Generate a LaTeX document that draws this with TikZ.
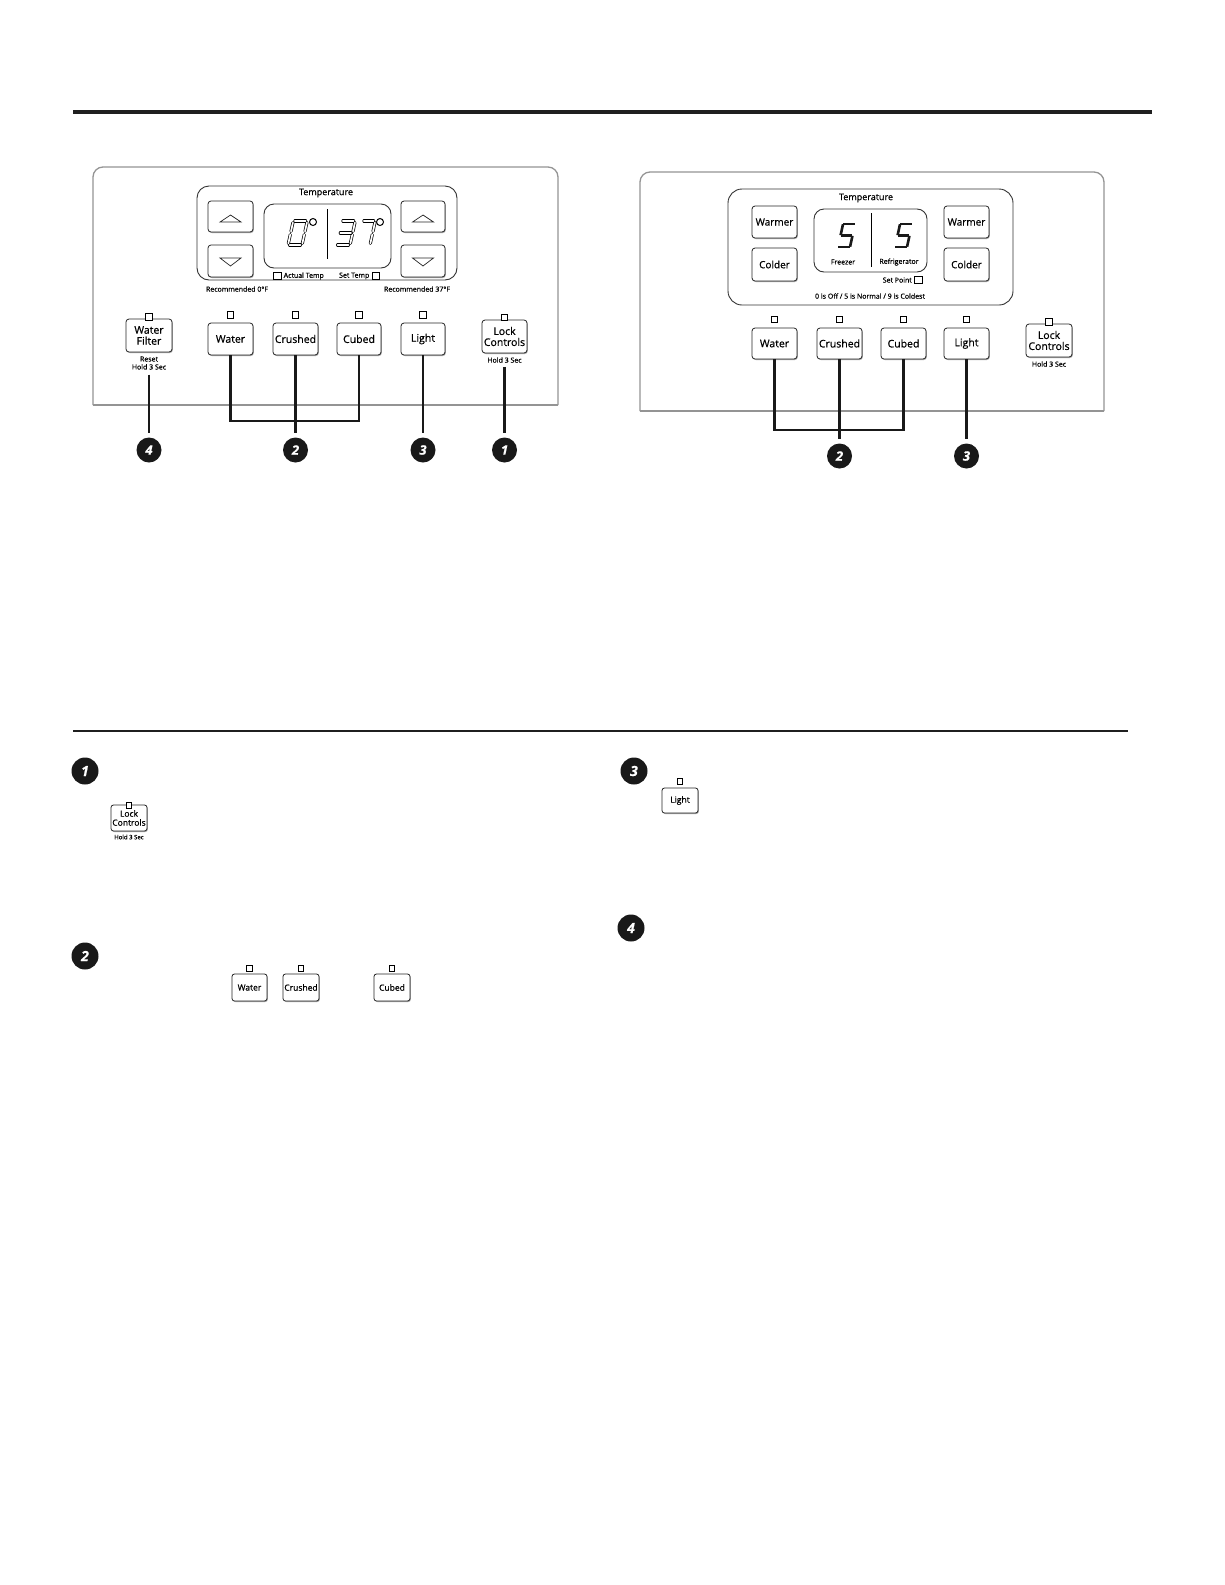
\documentclass[tikz,border=0pt]{standalone}
\usepackage{fontspec}
\setmainfont{Open Sans}[FakeBold=0.6]
\usetikzlibrary{shadows}
\newcommand{\sgA}[1]{\draw[#1] (\sgap,-\sgh) -- (\sgw-\sgap,-\sgh);}
\newcommand{\sgB}[1]{\draw[#1] (\sgw,-\sgh+\sgap) -- (\sgw,-\sgh/2-\sgap);}
\newcommand{\sgC}[1]{\draw[#1] (\sgw,-\sgh/2+\sgap) -- (\sgw,-\sgap);}
\newcommand{\sgD}[1]{\draw[#1] (\sgap,0) -- (\sgw-\sgap,0);}
\newcommand{\sgE}[1]{\draw[#1] (0,-\sgap) -- (0,-\sgh/2+\sgap);}
\newcommand{\sgF}[1]{\draw[#1] (0,-\sgh/2-\sgap) -- (0,-\sgh+\sgap);}
\newcommand{\sgG}[1]{\draw[#1] (\sgap,-\sgh/2) -- (\sgw-\sgap,-\sgh/2);}
\begin{document}
\begin{tikzpicture}[x=1pt,y=-1pt,
  panel/.style={draw=black!42, line width=1.3},
  tbox/.style={draw=black!80, line width=0.9, rounded corners=12, inner sep=0},
  disp/.style={draw=black!80, line width=0.9, rounded corners=10, inner sep=0},
  btn/.style={draw=black!85, line width=0.8, rounded corners=3, fill=white, inner sep=0, align=center,
     font=\fontsize{10.5}{11}\selectfont,
     drop shadow={shadow xshift=0.8pt, shadow yshift=-1pt, fill=black!35, opacity=1}},
  sbtn/.style={btn, font=\fontsize{8.5}{9}\selectfont, rounded corners=2.5},
  ind/.style={draw=black, line width=0.8, fill=white, minimum size=6.5, inner sep=0},
  sind/.style={ind, minimum size=5.5},
  chk/.style={draw=black, line width=0.7, fill=white, minimum width=7.5, minimum height=7, inner sep=0},
  ttl/.style={font=\fontsize{9}{10}\selectfont, inner sep=0},
  note/.style={font=\fontsize{7}{8}\selectfont, inner sep=0, align=center},
  small/.style={font=\fontsize{7}{8}\selectfont, inner sep=0},
  num/.style={circle, fill=black!90, text=white, minimum size=25, inner sep=0,
     font=\fontsize{13}{13}\selectfont\bfseries\itshape},
  snum/.style={num, minimum size=27, font=\fontsize{14}{14}\selectfont\bfseries\itshape},
  lead/.style={line width=2.2, black!90},
  tri/.style={line width=0.7, black!85, line join=miter},
  segL/.style={line width=0.7, double=white, double distance=1.7, line cap=round},
  segR/.style={line width=2.6, black!90, line cap=butt}
]
\useasboundingbox[fill=white] (0,0) rectangle (1225,1585);

% rules
\draw[line width=4.5, black!88] (73,112) -- (1152,112);
\draw[line width=2, black!88] (73,731) -- (1128,731);

% ================= left panel =================
\draw[panel, rounded corners=10] (93,405) -- (93,167) -- (558,167) -- (558,405);
\draw[panel] (93,405) -- (558,405);
\node[tbox, minimum width=260, minimum height=94] (tempL) at (327,233) {};
\node[ttl] (ttlL) at (326,193) {Temperature};
\node[btn, minimum width=45, minimum height=31] (upL) at (230.5,216.5) {};
\node[btn, minimum width=45, minimum height=32] (dnL) at (230.5,261) {};
\node[btn, minimum width=44, minimum height=31] (upR) at (423,216.5) {};
\node[btn, minimum width=44, minimum height=32] (dnR) at (423,261) {};
\draw[tri, shift={(upL.center)}] (-10.5,5.5) -- (0,-1.5) -- (10.5,5.5) -- cycle;
\draw[tri, shift={(upR.center)}] (-10.5,5.5) -- (0,-1.5) -- (10.5,5.5) -- cycle;
\draw[tri, shift={(dnL.center)}] (-10.5,-3) -- (0,5) -- (10.5,-3) -- cycle;
\draw[tri, shift={(dnR.center)}] (-10.5,-3) -- (0,5) -- (10.5,-3) -- cycle;
\node[disp, minimum width=127, minimum height=64] (dispL) at (327.5,236) {};
\draw[line width=1] (327,209) -- (327,259);
% digits 0 37
\def\sgw{14}\def\sgh{24}\def\sgap{1.6}
\begin{scope}[shift={(288,245)}, cm={1,0,0.22,1,(0,0)}]
  \sgA{segL}\sgB{segL}\sgC{segL}\sgD{segL}\sgE{segL}\sgF{segL}
\end{scope}
\begin{scope}[shift={(336,245)}, cm={1,0,0.22,1,(0,0)}]
  \sgA{segL}\sgB{segL}\sgC{segL}\sgD{segL}\sgG{segL}
\end{scope}
\def\sgw{13}
\begin{scope}[shift={(357,245)}, cm={1,0,0.22,1,(0,0)}]
  \sgA{segL}\sgB{segL}\sgC{segL}
\end{scope}
\draw[line width=1] (313,222) circle (3.5);
\draw[line width=1] (380,222) circle (3.5);
\node[chk] (chkAL) at (277.5,275.5) {};
\node[small, anchor=west] (actL) at (283.5,276) {Actual Temp};
\node[small, anchor=east] (setL) at (369.5,276) {Set Temp};
\node[chk] (chkSL) at (376,275.5) {};
\node[small] (rec0) at (237,289) {Recommended 0°F};
\node[small] (rec37) at (417,289) {Recommended 37°F};

% buttons row
\node[btn, minimum width=46, minimum height=33] (wfL) at (149,335.5) {Water\\Filter};
\node[ind] (iwf) at (149,317) {};
\node[note] (wfnote) at (149,363) {Reset\\Hold 3 Sec};
\node[btn, minimum width=45, minimum height=32] (waterL) at (230.5,339) {Water};
\node[btn, minimum width=45, minimum height=32] (crushedL) at (295.5,339) {Crushed};
\node[btn, minimum width=44, minimum height=32] (cubedL) at (359,339) {Cubed};
\node[btn, minimum width=44, minimum height=32] (lightL) at (423,339) {Light};
\node[ind] (iwaL) at (230.5,315) {};
\node[ind] (icrL) at (295.5,315) {};
\node[ind] (icuL) at (359,315) {};
\node[ind] (iliL) at (423,315) {};
\node[btn, minimum width=45, minimum height=33] (lockL) at (504.5,336.5) {Lock\\Controls};
\node[ind] (ilkL) at (504.5,317.5) {};
\node[note] (lknote) at (504.5,360) {Hold 3 Sec};

% leaders left
\node[num] (n4L) at (149,450) {4};
\node[num] (n2L) at (295.5,450) {2};
\node[num] (n3L) at (423,450) {3};
\node[num] (n1L) at (504.5,450) {1};
\coordinate (brL) at (0,421);
\draw[lead, shorten <=5, shorten >=4] (wfnote.south) -- (n4L.north);
\draw[lead] (waterL.south) -- (waterL.south |- brL) -- (cubedL.south |- brL) -- (cubedL.south);
\draw[lead, shorten >=4] (crushedL.south) -- (n2L.north);
\draw[lead, shorten >=4] (lightL.south) -- (n3L.north);
\draw[lead, shorten <=4, shorten >=4] (lknote.south) -- (n1L.north);

% ================= right panel =================
\draw[panel, rounded corners=10] (640,411) -- (640,172) -- (1104,172) -- (1104,411);
\draw[panel] (640,411) -- (1104,411);
\node[tbox, minimum width=285, minimum height=116, rounded corners=14] (tempR) at (870.5,247) {};
\node[ttl] (ttlR) at (866,198) {Temperature};
\node[btn, minimum width=45, minimum height=32, font=\fontsize{10}{11}\selectfont] (warmL) at (774.5,222) {Warmer};
\node[btn, minimum width=45, minimum height=33, font=\fontsize{10}{11}\selectfont] (coldL) at (774.5,264.5) {Colder};
\node[btn, minimum width=45, minimum height=32, font=\fontsize{10}{11}\selectfont] (warmR) at (966.5,222) {Warmer};
\node[btn, minimum width=45, minimum height=33, font=\fontsize{10}{11}\selectfont] (coldR) at (966.5,264.5) {Colder};
\node[disp, minimum width=113, minimum height=63] (dispR) at (870.5,240.5) {};
\draw[line width=1] (871,213) -- (871,267);
\def\sgw{12}\def\sgh{23}\def\sgap{0.3}
\begin{scope}[shift={(838,247)}, cm={1,0,0.22,1,(0,0)}]
  \sgA{segR}\sgF{segR}\sgG{segR}\sgC{segR}\sgD{segR}
\end{scope}
\begin{scope}[shift={(895,247)}, cm={1,0,0.22,1,(0,0)}]
  \sgA{segR}\sgF{segR}\sgG{segR}\sgC{segR}\sgD{segR}
\end{scope}
\node[small] (frz) at (843,262) {Freezer};
\node[small] (ref) at (899,262) {Refrigerator};
\node[small, anchor=east] (setpt) at (912,280) {Set Point};
\node[chk, minimum width=8.5, minimum height=7.5] (chkSP) at (918.5,280) {};
\node[small] (scale) at (870,296) {0 is Off / 5 is Normal / 9 is Coldest};

\node[btn, minimum width=45, minimum height=31] (waterR) at (774.5,343.5) {Water};
\node[btn, minimum width=45, minimum height=31] (crushedR) at (839.5,343.5) {Crushed};
\node[btn, minimum width=45, minimum height=31] (cubedR) at (903.5,343.5) {Cubed};
\node[btn, minimum width=45, minimum height=31] (lightR) at (966.5,343.5) {Light};
\node[ind] (iwaR) at (774.5,319.5) {};
\node[ind] (icrR) at (839.5,319.5) {};
\node[ind] (icuR) at (903.5,319.5) {};
\node[ind] (iliR) at (966.5,319.5) {};
\node[btn, minimum width=46, minimum height=33] (lockR) at (1049,340.5) {Lock\\Controls};
\node[ind] (ilkR) at (1049,322) {};
\node[note] (lknoteR) at (1049,364) {Hold 3 Sec};

\node[num] (n2R) at (839.5,456) {2};
\node[num] (n3R) at (966.5,456) {3};
\coordinate (brR) at (0,430);
\draw[lead] (waterR.south) -- (waterR.south |- brR) -- (cubedR.south |- brR) -- (cubedR.south);
\draw[lead, shorten >=4] (crushedR.south) -- (n2R.north);
\draw[lead, shorten >=4] (lightR.south) -- (n3R.north);

% ================= sections =================
\node[snum] (s1) at (85,771) {1};
\node[sbtn, minimum width=36, minimum height=26] (lockS) at (129,818) {Lock\\Controls};
\node[sind] (ilkS) at (129,805.5) {};
\node[font=\fontsize{6}{7}\selectfont, inner sep=0] (lkS) at (129,837) {Hold 3 Sec};

\node[snum] (s2) at (85,956) {2};
\node[sbtn, minimum width=35, minimum height=27] (waterS) at (249.5,987.5) {Water};
\node[sbtn, minimum width=36, minimum height=27] (crushedS) at (301,987.5) {Crushed};
\node[sbtn, minimum width=36, minimum height=27] (cubedS) at (392,987.5) {Cubed};
\node[sind] (iwaS) at (249.5,968.5) {};
\node[sind] (icrS) at (301,968.5) {};
\node[sind] (icuS) at (392,968.5) {};

\node[snum] (s3) at (634,771) {3};
\node[sbtn, minimum width=36, minimum height=25] (lightS) at (680,800.5) {Light};
\node[sind] (iliS) at (680,781.5) {};

\node[snum] (s4) at (631,928) {4};
\end{tikzpicture}
\end{document}
